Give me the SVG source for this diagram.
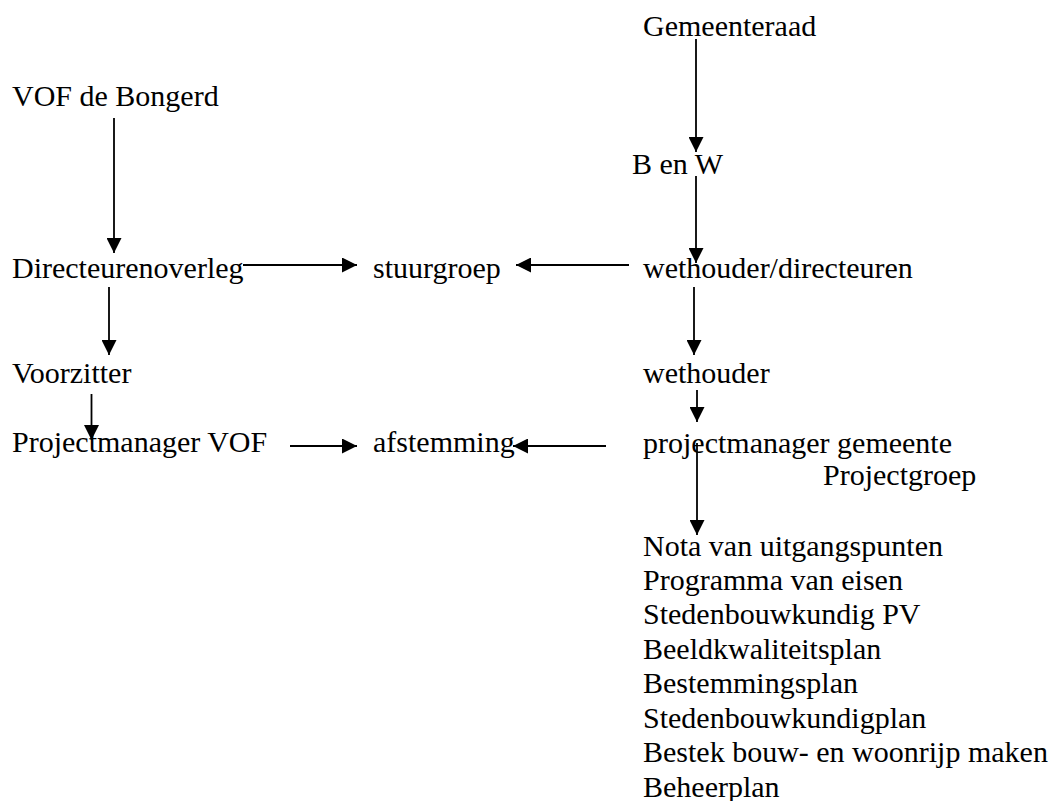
<svg xmlns="http://www.w3.org/2000/svg" width="1051" height="801" viewBox="0 0 1051 801">
<style>
text{font-family:"Liberation Serif","Times New Roman",serif;font-size:30px;fill:#000}
.c line{stroke:#000;stroke-width:1.8;fill:none;marker-end:url(#ah)}
</style>
<defs>
<marker id="ah" markerUnits="userSpaceOnUse" markerWidth="15" markerHeight="15" refX="15" refY="7.5" orient="auto" viewBox="0 0 15 15"><path d="M0,0 L15,7.5 L0,15 Z" fill="#000"/></marker>
</defs>
<rect width="1051" height="801" fill="#fff"/>
<g id="n-gemeenteraad"><text x="643" y="36">Gemeenteraad</text></g>
<g id="n-vof"><text x="12" y="106">VOF de Bongerd</text></g>
<g id="n-benw"><text x="632" y="174">B en W</text></g>
<g id="n-directeurenoverleg"><text x="12" y="278">Directeurenoverleg</text></g>
<g id="n-stuurgroep"><text x="373" y="278">stuurgroep</text></g>
<g id="n-wethdir"><text x="643" y="278">wethouder/directeuren</text></g>
<g id="n-voorzitter"><text x="12" y="383">Voorzitter</text></g>
<g id="n-wethouder"><text x="643" y="383">wethouder</text></g>
<g id="n-pmvof"><text x="12" y="452">Projectmanager VOF</text></g>
<g id="n-afstemming"><text x="373" y="452">afstemming</text></g>
<g id="n-pmgem"><text x="643" y="453">projectmanager gemeente</text><text x="823" y="485">Projectgroep</text></g>
<g id="n-list">
<text x="643" y="556">Nota van uitgangspunten</text>
<text x="643" y="590">Programma van eisen</text>
<text x="643" y="624">Stedenbouwkundig PV</text>
<text x="643" y="659">Beeldkwaliteitsplan</text>
<text x="643" y="693">Bestemmingsplan</text>
<text x="643" y="728">Stedenbouwkundigplan</text>
<text x="643" y="762">Bestek bouw- en woonrijp maken</text>
<text x="643" y="797">Beheerplan</text>
</g>
<g id="connectors" class="c">
<line x1="114" y1="118" x2="114" y2="253"/>
<line x1="696" y1="39" x2="696" y2="152"/>
<line x1="696" y1="176" x2="696" y2="263"/>
<line x1="243" y1="265" x2="357" y2="265"/>
<line x1="629" y1="265" x2="516" y2="265"/>
<line x1="109" y1="287" x2="109" y2="355"/>
<line x1="694" y1="287" x2="694" y2="355"/>
<line x1="91.5" y1="394" x2="91.5" y2="440"/>
<line x1="697" y1="390" x2="697" y2="422"/>
<line x1="290" y1="446" x2="357" y2="446"/>
<line x1="606" y1="446" x2="513" y2="446"/>
<line x1="697" y1="443" x2="697" y2="535"/>
</g>
</svg>
